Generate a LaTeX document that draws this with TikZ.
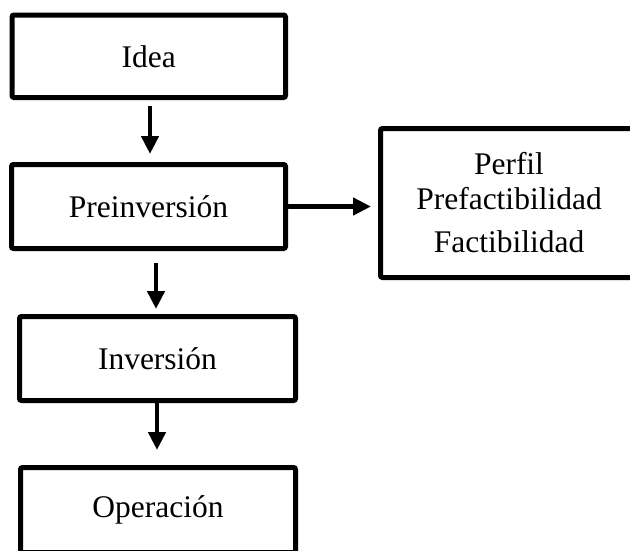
\documentclass[tikz,border=0pt]{standalone}
\usepackage{fontspec}
\setmainfont{Liberation Serif}
\usetikzlibrary{arrows.meta}
\begin{document}
\begin{tikzpicture}[x=1pt,y=-1pt,
  stagebox/.style={draw=black, line width=5pt, rounded corners=2pt, fill=white,
    inner sep=0pt, font=\fontsize{31.5}{35}\selectfont, align=center},
  arr/.style={line width=4.5pt, -{Triangle[length=18pt,width=17pt]}}]
\useasboundingbox (0,0) rectangle (630,550);
\clip (0,0) rectangle (630,550);
\node[stagebox, minimum width=273.5pt, minimum height=82.5pt] (idea) at (148.75,56.25) {Idea};
\node[stagebox, minimum width=274pt, minimum height=84pt] (pre) at (148.5,206.5) {Preinversión};
\node[stagebox, minimum width=257pt, minimum height=149pt] (studies) at (509,203)
  {Perfil\\Prefactibilidad\\[8pt]Factibilidad};
\node[stagebox, minimum width=276pt, minimum height=84pt] (inv) at (157.5,358.5) {Inversión};
\node[stagebox, minimum width=275pt, minimum height=85pt] (ope) at (158,510) {Operación};
\draw[arr, shorten <=6pt, shorten >=8pt] (idea.south -| 150,0) -- (pre.north -| 150,0);
\draw[arr, shorten >=7pt] (pre.east) -- (pre.east -| studies.west);
\draw[arr, shorten <=12pt, shorten >=5pt] (pre.south -| 156,0) -- (inv.north -| 156,0);
\draw[arr, shorten >=15pt] (inv.south -| 157,0) -- (ope.north -| 157,0);
\end{tikzpicture}
\end{document}
